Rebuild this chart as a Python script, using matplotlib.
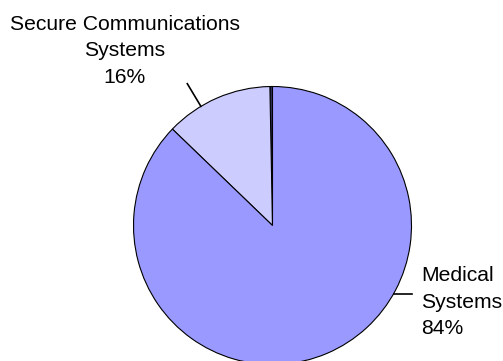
import matplotlib
matplotlib.use('Agg')
import matplotlib.pyplot as plt
import numpy as np

# slice data (drawn as in the source chart, labels as printed)
categories = ['', 'Secure Communications\nSystems', 'Medical\nSystems']
values = [0.3, 12.5, 87.2]
pct_labels = ['', '16%', '84%']
colors = ['#333366', '#CCCCFF', '#9999FF']

plt.rcParams['font.family'] = ['Liberation Sans', 'DejaVu Sans']

fig = plt.figure(figsize=(5.03, 3.61), dpi=100)
ax = fig.add_axes([0, 0, 1, 1])

cx, cy, r = 272.5, 135.5, 139
ax.pie(values, colors=colors, startangle=90, counterclock=True,
       center=(cx, cy), radius=r, frame=True,
       wedgeprops=dict(edgecolor='black', linewidth=0.8))
ax.set_xlim(0, 503)
ax.set_ylim(0, 361)
ax.set_aspect('equal')
ax.axis('off')

# leader lines
def edge(angle, scale=1.0):
    a = np.radians(angle)
    return cx + r * scale * np.cos(a), cy + r * scale * np.sin(a)

x0, y0 = edge(121)
x1, y1 = edge(121, 1.19)
ax.plot([x0, x1], [y0, y1], color='black', lw=1.2)

x0, y0 = edge(-29.4)
ax.plot([x0, 412], [y0, y0], color='black', lw=1.2)

ax.text(125, 361 - 51, categories[1] + '\n' + pct_labels[1], ha='center', va='center',
        fontsize=15.2, linespacing=1.52)
ax.text(421, 361 - 302, categories[2] + '\n' + pct_labels[2], ha='left', va='center',
        fontsize=15.2, linespacing=1.52)

fig.savefig('out.png', dpi=100)
